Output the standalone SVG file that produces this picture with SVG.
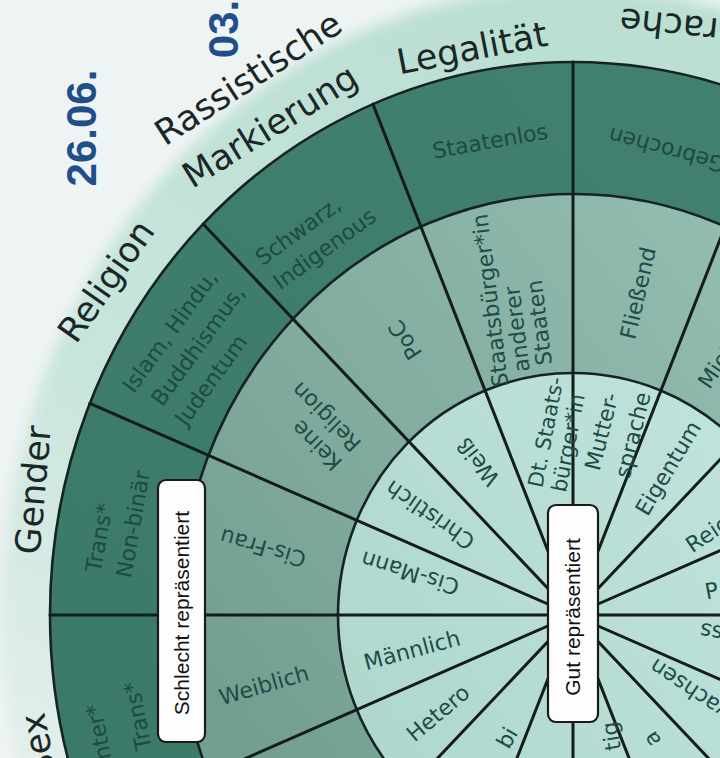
<svg xmlns="http://www.w3.org/2000/svg" width="720" height="758" viewBox="0 0 720 758">
<defs>
  <linearGradient id="bandGrad" gradientUnits="userSpaceOnUse" x1="400" y1="0" x2="0" y2="758">
    <stop offset="0" stop-color="#bcdfd4"/>
    <stop offset="0.55" stop-color="#c8e5dc"/>
    <stop offset="1" stop-color="#e4efec"/>
  </linearGradient>
  <linearGradient id="midGrad" gradientUnits="userSpaceOnUse" x1="180" y1="650" x2="720" y2="250">
    <stop offset="0" stop-color="#739f91"/>
    <stop offset="1" stop-color="#93bcb0"/>
  </linearGradient>
  <linearGradient id="outGrad" gradientUnits="userSpaceOnUse" x1="50" y1="700" x2="720" y2="60">
    <stop offset="0" stop-color="#3b7968"/>
    <stop offset="1" stop-color="#42806f"/>
  </linearGradient>
  <linearGradient id="inGrad" gradientUnits="userSpaceOnUse" x1="340" y1="650" x2="720" y2="400">
    <stop offset="0" stop-color="#b0d8cf"/>
    <stop offset="1" stop-color="#c0e3dc"/>
  </linearGradient>
  <filter id="soft" x="-10%" y="-10%" width="120%" height="120%"><feGaussianBlur stdDeviation="7"/></filter>
  <style>
    .ring { stroke:#172222; stroke-width:2.6; }
    .spoke { stroke:#141c1c; stroke-width:3; stroke-linecap:round; }
    .band { font-family:"DejaVu Sans",sans-serif; font-size:35px; fill:#1b2727; text-anchor:middle; }
    .lbl { font-family:"DejaVu Sans",sans-serif; font-size:22px; fill:#1e4c47; text-anchor:middle; }
    .st { text-anchor:start; }
    .en { text-anchor:end; }
    .dk { fill:#1d4a42; }
    .boxt { font-family:"Liberation Sans",sans-serif; font-size:21px; fill:#111; text-anchor:middle; }
    .date { font-family:"Liberation Sans",sans-serif; font-weight:bold; font-size:42px; fill:#1f4f8b; text-anchor:middle; }
    .box { fill:#fdfdfd; stroke:#1a1a1a; stroke-width:2.2; }
  </style>
</defs>

<rect width="720" height="758" fill="#eef4f3"/>
<ellipse cx="573" cy="615" rx="572" ry="628" fill="url(#bandGrad)" filter="url(#soft)"/>

<g id="dates">
  <text class="date" transform="translate(81,128) rotate(-90)" dy="0.35em">26.06.</text>
  <text class="date" transform="translate(223,29) rotate(-90)" dy="0.35em">03.</text>
</g>

<g id="rings">
  <ellipse class="ring" cx="573" cy="615" rx="523" ry="553" fill="url(#outGrad)"/>
  <ellipse class="ring" cx="573" cy="615" rx="394" ry="421" fill="url(#midGrad)"/>
  <ellipse class="ring" cx="573" cy="615" rx="235" ry="242" fill="url(#inGrad)"/>
</g>

<g id="connectors">
  <line class="spoke" x1="573" y1="615" x2="1096" y2="615"/>
  <line class="spoke" x1="573" y1="615" x2="1056.2" y2="403.4"/>
  <line class="spoke" x1="573" y1="615" x2="942.8" y2="224"/>
  <line class="spoke" x1="573" y1="615" x2="773.1" y2="104.1"/>
  <line class="spoke" x1="573" y1="615" x2="573" y2="62"/>
  <line class="spoke" x1="573" y1="615" x2="372.9" y2="104.1"/>
  <line class="spoke" x1="573" y1="615" x2="203.2" y2="224"/>
  <line class="spoke" x1="573" y1="615" x2="89.8" y2="403.4"/>
  <line class="spoke" x1="573" y1="615" x2="50" y2="615"/>
  <line class="spoke" x1="573" y1="615" x2="89.8" y2="826.6"/>
  <line class="spoke" x1="573" y1="615" x2="203.2" y2="1006"/>
  <line class="spoke" x1="573" y1="615" x2="372.9" y2="1125.9"/>
  <line class="spoke" x1="573" y1="615" x2="573" y2="1168"/>
  <line class="spoke" x1="573" y1="615" x2="773.1" y2="1125.9"/>
  <line class="spoke" x1="573" y1="615" x2="942.8" y2="1006"/>
  <line class="spoke" x1="573" y1="615" x2="1056.2" y2="826.6"/>
</g>

<g id="band-labels">
  <text class="band" transform="translate(38,745) rotate(-101)" dy="0.35em">Sex</text>
  <text class="band" transform="translate(33,490) rotate(-85)" dy="0.35em">Gender</text>
  <text class="band" transform="translate(106,281) rotate(-55)" dy="0.35em">Religion</text>
  <text class="band" transform="translate(248,78) rotate(-33)" dy="0.35em">Rassistische</text>
  <text class="band" transform="translate(270,126) rotate(-32)" dy="0.35em">Markierung</text>
  <text class="band" transform="translate(472,48) rotate(-11)" dy="0.35em">Legalität</text>
  <text class="band" transform="translate(691,28) rotate(186)" dy="0.35em">Sprache</text>
</g>

<g id="sex">
  <text class="lbl dk st" transform="translate(105,766) rotate(-101)" dy="0.35em">Inter*</text>
  <text class="lbl dk st" transform="translate(144,750) rotate(-101)" dy="0.35em">Trans*</text>
  <text class="lbl" transform="translate(264,685) rotate(-16)" dy="0.35em">Weiblich</text>
  <text class="lbl" transform="translate(412,650) rotate(-15)" dy="0.35em">Männlich</text>
</g>

<g id="gender">
  <g transform="translate(93,572) rotate(-80)">
    <text class="lbl dk st" y="0" dy="0.35em">Trans*</text>
    <text class="lbl dk st" y="31" dy="0.35em">Non-binär</text>
  </g>
  <text class="lbl" transform="translate(263,548) rotate(196)" dy="0.35em">Cis-Frau</text>
  <text class="lbl" transform="translate(410,573) rotate(197)" dy="0.35em">Cis-Mann</text>
</g>

<g id="sexuelle-orientierung">
  <text class="lbl" transform="translate(438,713) rotate(-40)" dy="0.35em">Hetero</text>
</g>

<g id="lower-sectors">
  <text class="lbl en" transform="translate(512,729) rotate(-60)" dy="0.35em">bi</text>
  <text class="lbl en" transform="translate(609,722) rotate(-99)" dy="0.35em">tig</text>
  <text class="lbl en" transform="translate(648,734) rotate(-124)" dy="0.35em">a</text>
  <text class="lbl en" transform="translate(700,630) rotate(191)" dy="0.35em">ss</text>
</g>

<g id="religion">
  <g transform="translate(156,403) rotate(-54)">
    <text class="lbl dk st" x="-6" y="-31" dy="0.35em">Islam, Hindu,</text>
    <text class="lbl dk st" x="0" y="0" dy="0.35em">Buddhismus,</text>
    <text class="lbl dk st" x="-2" y="31" dy="0.35em">Judentum</text>
  </g>
  <g transform="translate(338,467) rotate(225)">
    <text class="lbl st" y="0" dy="0.35em">Keine</text>
    <text class="lbl st" y="27" dy="0.35em">Religion</text>
  </g>
  <text class="lbl" transform="translate(430,515) rotate(215)" dy="0.35em">Christlich</text>
</g>

<g id="rassistische-markierung">
  <g transform="translate(258,260) rotate(-36)">
    <text class="lbl dk st" y="0" dy="0.35em">Schwarz,</text>
    <text class="lbl dk st" y="30" dy="0.35em">Indigenous</text>
  </g>
  <text class="lbl" transform="translate(405,340) rotate(237)" dy="0.35em">PoC</text>
  <text class="lbl" transform="translate(478,462) rotate(232)" dy="0.35em">Weiß</text>
</g>

<g id="legalitaet">
  <text class="lbl dk" transform="translate(490,141) rotate(-10)" dy="0.35em">Staatenlos</text>
  <g transform="translate(522,372) rotate(-97)">
    <text class="lbl st" x="-12" y="-23" dy="0.35em">Staatsbürger*in</text>
    <text class="lbl st" x="0" y="0" dy="0.35em">anderer</text>
    <text class="lbl st" x="4" y="23" dy="0.35em">Staaten</text>
  </g>
  <g transform="translate(535,487) rotate(-79)">
    <text class="lbl st" y="0" dy="0.35em" style="font-size:21px">Dt. Staats-</text>
    <text class="lbl st" y="24" dy="0.35em" style="font-size:21px">bürger*in</text>
  </g>
</g>

<g id="sprache">
  <text class="lbl dk" transform="translate(667,150) rotate(195)" dy="0.35em">Gebrochen</text>
  <text class="lbl" transform="translate(638,293) rotate(-77)" dy="0.35em">Fließend</text>
  <g transform="translate(592,470) rotate(-76)">
    <text class="lbl st" y="0" dy="0.35em">Mutter-</text>
    <text class="lbl st" y="31" dy="0.35em">sprache</text>
  </g>
</g>

<g id="besitz">
  <text class="lbl st" transform="translate(703,386) rotate(-56)" dy="0.35em">Miete</text>
  <text class="lbl" transform="translate(668,468) rotate(-59)" dy="0.35em">Eigentum</text>
</g>

<g id="right-sectors">
  <text class="lbl st" transform="translate(688,547) rotate(-34)" dy="0.35em">Reich</text>
  <text class="lbl st" transform="translate(705,592) rotate(-11)" dy="0.35em">P</text>
  <text class="lbl en" transform="translate(652,664) rotate(214)" dy="0.35em">Erwachsen</text>
</g>

<g id="box-schlecht">
  <rect class="box" x="158" y="480" width="47" height="262" rx="8"/>
  <text class="boxt" transform="translate(181.5,613) rotate(-90)" dy="0.35em">Schlecht repräsentiert</text>
</g>
<g id="box-gut">
  <rect class="box" x="548" y="505" width="50" height="217" rx="8"/>
  <text class="boxt" transform="translate(573,617) rotate(-90)" dy="0.35em">Gut repräsentiert</text>
</g>
</svg>
